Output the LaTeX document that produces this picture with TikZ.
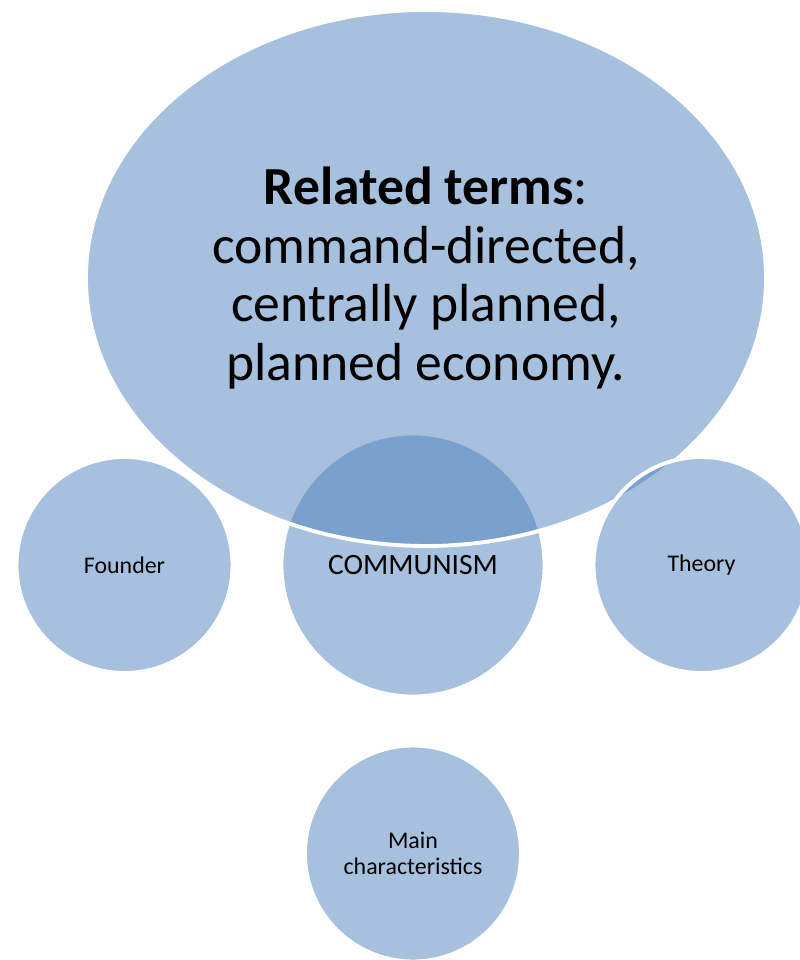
\documentclass[tikz,border=0pt]{standalone}
\usepackage{fontspec}
\setmainfont{Carlito}
\usetikzlibrary{shapes.geometric,positioning}
\definecolor{vennblue}{RGB}{79,129,189}

\begin{document}
\begin{tikzpicture}[node distance=5.77cm,on grid,
  bubble/.style={circle,fill=vennblue,fill opacity=0.5,text opacity=1,draw=white,
    line width=2.2pt,minimum size=4.32cm,align=center,font=\fontsize{13.6}{15}\selectfont}]
   \clip (-8.26,-7.9) rectangle (7.74,11.3);
   \node[bubble,minimum size=5.26cm,font=\fontsize{16.8}{19}\selectfont] (communism) {COMMUNISM};
   \node[bubble] (founder) [left=of communism] {Founder};
   \node[bubble] (main) [below=of communism] {Main\\characteristics};
   \node[bubble,ellipse,minimum width=13.6cm,minimum height=10.72cm,
     font=\fontsize{30.5}{33.5}\selectfont] (terms) [above right=5.74cm and 0.26cm of communism]
     {\textbf{Related terms}:\\command-directed,\\centrally planned,\\planned economy.};
   \node[bubble] (theory) [right=of communism] {Theory};
\end{tikzpicture}
\end{document}
